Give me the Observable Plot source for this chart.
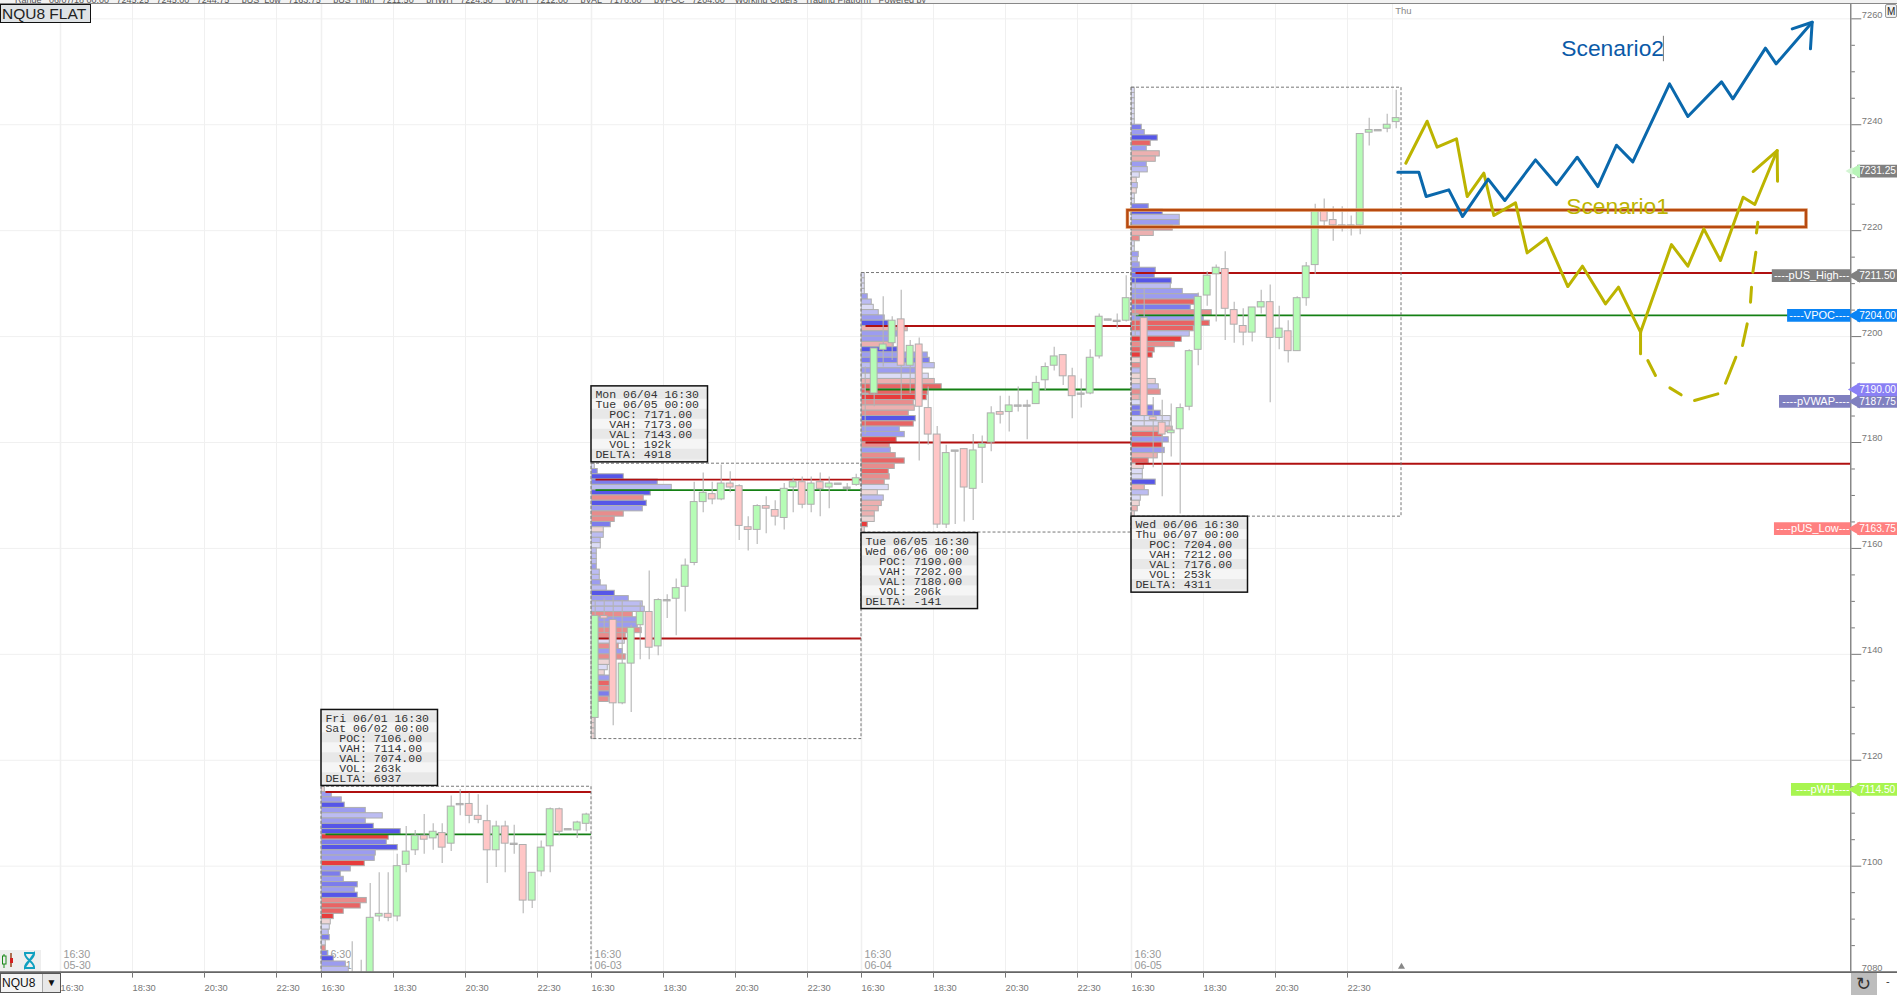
<!DOCTYPE html>
<html>
<head>
<meta charset="utf-8">
<script src="https://cdn.jsdelivr.net/npm/d3@7"></script>
<script src="https://cdn.jsdelivr.net/npm/@observablehq/plot@0.6"></script>
<style>
html,body{margin:0;padding:0;background:#fff;overflow:hidden}
#wrap{position:relative;width:1897px;height:995px;overflow:hidden;font-family:"Liberation Sans",Arial,sans-serif}
#chart text{white-space:pre}
.chrome{position:absolute;box-sizing:border-box}
</style>
</head>
<body>
<div id="wrap"><div id="chart"></div>
<div class="chrome" style="left:0;top:0;width:1897px;height:3.5px;background:#f2f2f2;border-bottom:1px solid #888;overflow:hidden;font-size:9px;line-height:0;color:#555;white-space:pre">      Range   06/07/18 00:00   7245.25   7245.00   7244.75     pUS_Low   7163.75     pUS_High   7211.50     pHWH   7224.50     pVAH   7212.00     pVAL   7176.00     pVPOC   7204.00    Working Orders   Trading Platform   Powered by</div>
<div class="chrome" style="left:0;top:4px;width:91px;height:19px;background:#dfe3e6;border:1px solid #111;font-size:15.5px;line-height:17px;padding-left:1px;color:#222">NQU8 FLAT</div>
<div class="chrome" style="left:1885px;top:4px;width:12px;height:14px;background:#f0f0f0;border:1px solid #999;border-radius:2px;font-size:10px;line-height:13px;padding-left:1px;color:#222">M</div>
<div class="chrome" style="left:0;top:950px;width:41px;height:21px;background:#eeeeee">
<svg width="41" height="21"><path d="M4 4V18M11 3V17" stroke="#1a8a1a" stroke-width="1"/><rect x="2.5" y="6" width="3.5" height="8" fill="#eee" stroke="#1a8a1a"/><path d="M11 3V17" stroke="#d42020"/><rect x="10" y="8" width="3" height="5" fill="#d42020"/><path d="M24 3H35M24 18H35M25 4C25 9 34 12 34 17M34 4C34 9 25 12 25 17Z" fill="none" stroke="#10a0c0" stroke-width="2"/></svg></div>
<div class="chrome" style="left:0;top:973px;width:61px;height:20px;background:#f4f4f4;border:1px solid #555;font-size:12px;line-height:18px;padding-left:1px;color:#111">NQU8<span style="position:absolute;right:0;top:0;width:17px;height:18px;background:#e8e8e8;border-left:1px solid #aaa;font-size:10px;text-align:center">▼</span></div>
<div class="chrome" style="left:1850.5px;top:972.5px;width:26px;height:22.5px;background:#bdbdbd;color:#333;font-size:18px;line-height:22px;text-align:center">↻</div>
<div class="chrome" style="left:1886px;top:975px;font-size:11px;color:#333">-</div>
</div>
<script>
// ---- data -------------------------------------------------------------
const sessionStart = [30, 60, 90, 120];
const sessionDate = ["05-30", "06-01", "06-03", "06-04", "06-05"];
const sessionDateBar = [1.33, 30.33, 60.33, 90.33, 120.33];
const tickBars = [1, 9, 17, 25, 30, 38, 46, 54, 60, 68, 76, 84, 90, 98, 106, 114, 120, 128, 136, 144];
const tickLabels = ["16:30","18:30","20:30","22:30","16:30","18:30","20:30","22:30","16:30","18:30","20:30","22:30","16:30","18:30","20:30","22:30","16:30","18:30","20:30","22:30"];
const extraGridBars = [149];
const priceMajor = [7080,7100,7120,7140,7160,7180,7200,7220,7240,7260];
const priceMinor = [7085,7090,7095,7105,7110,7115,7125,7130,7135,7145,7150,7155,7165,7170,7175,7185,7190,7195,7205,7210,7215,7225,7230,7235,7245,7250,7255];

const open1  = [null,null,null,7075,7072,7075,7090.5,7091,7090.5,7100.25,7103,7105.75,7105.25,7106.25,7104.25,7111.75,7111.75,7109.5,7108.5,7103,7107.5,7104.25,7104,7093.5,7099,7103.75,7110.75,7107,7106.75,7108];
const high1  = [null,null,null,7085.75,7082.25,7096.75,7098.75,7098.75,7102.25,7107.5,7106.75,7109.75,7108,7108,7113.25,7114.5,7113.75,7113.5,7111.5,7108.5,7108.5,7107.75,7104,7098.75,7104.75,7111,7111,7107,7108.5,7110];
const low1   = [null,null,null,7070,7068,7072,7089.5,7089.5,7089.5,7098.75,7102,7102.25,7103,7100.5,7102.75,7109.5,7108,7108,7096.75,7099.75,7098.75,7102.25,7091,7092,7098,7098.75,7105.75,7106.75,7105.25,7106.5];
const close1 = [null,null,null,7072,7075,7090.25,7091,7090.25,7100,7102.75,7105.75,7105,7106.5,7103.5,7111.25,7111.5,7109.5,7108.75,7103,7107.5,7104.25,7104,7093.5,7098.75,7103.5,7110.75,7106.5,7106.75,7108.25,7109.75];

const open2  = [7128,7147.25,7146.5,7130.75,7138.25,7145.5,7148,7141.5,7150.25,7150.5,7152.75,7157.25,7168.75,7170.25,7169.25,7172.25,7171.75,7164,7163.5,7168,7167.25,7165.75,7171.5,7172.5,7168.25,7172.5,7171.5,7172.25,7171.5,7172];
const high2  = [7150.25,7150.5,7150.75,7150.25,7145.5,7149.75,7155.75,7150.5,7151.25,7154.25,7158,7172.5,7174.25,7172.5,7175.75,7174.5,7172,7166,7168.25,7169.75,7169,7172.25,7173.25,7173.5,7173.5,7174.25,7173.5,7172.25,7172.25,7174];
const low2   = [7124,7144,7126.5,7130.5,7129,7139,7139,7139.75,7146.75,7143.5,7148,7156.75,7166.75,7168.25,7169,7170.5,7161.5,7159.5,7160.75,7162.75,7164.25,7163.5,7166.75,7167.5,7166.75,7166,7167.5,7172,7170.75,7171.75];
const close2 = [7147.25,7146.75,7130.75,7138.25,7145,7148,7141.25,7150.25,7150,7152.5,7156.75,7168.75,7170.5,7169.25,7172.25,7171.5,7164.25,7163.5,7168,7167.5,7166,7171.25,7172.5,7168.25,7172.25,7171.25,7172.25,7172,7171.25,7173.25];

const open3  = [7189.25,7189.25,7197.5,7198.75,7203.25,7194.5,7198.5,7186.5,7181.5,7164.5,7178.5,7178.75,7171.25,7179,7180,7185.75,7185.75,7187,7187,7187.25,7191.75,7194.5,7196.5,7192.5,7189.25,7189.25,7196.25,7203.25,7203,7203];
const high3  = [7194.25,7197.75,7207.5,7203.75,7208.75,7199.25,7199.75,7190.5,7183,7179.5,7178.5,7178.75,7181.5,7181.25,7186.75,7188.75,7188.75,7190.5,7188,7192.5,7195,7198,7196.5,7194,7192,7197.5,7204.25,7203.25,7204.25,7211.5];
const low3   = [7181.5,7186.75,7194.25,7195.5,7188,7189.25,7176.5,7179.5,7163.75,7163.75,7164.5,7165,7165.25,7172.25,7178.25,7183.5,7182,7185.75,7180.5,7187.25,7189.75,7193.5,7190.75,7184.5,7186.5,7189,7195.75,7203,7201.5,7202.75];
const close3 = [7189,7197.75,7198.5,7203,7194.5,7198.25,7186.75,7181.5,7164.5,7178,7178.25,7171.5,7178.5,7179.75,7185.5,7185.25,7187,7186.75,7186.75,7191.25,7194.25,7196.25,7192.5,7188.75,7189,7196,7203.75,7203,7202.75,7207.25];

const open4  = [7204.25,7203.5,7184.75,7183.75,7181.75,7182.5,7186.75,7197.5,7207.75,7211.75,7212.75,7205,7202,7200.75,7205.5,7206.5,7199.75,7201,7197.25,7207.25,7213.5,7223.75,7222,7221,7221,7221,7238.5,7239,7239.25,7240.5];
const high4  = [7211,7209,7188.5,7188,7187.25,7187.25,7197.5,7208.25,7212.25,7213.5,7216,7206.5,7205.25,7205.5,7208.75,7209.75,7205.75,7203,7207.5,7214,7225,7226,7224.5,7224.5,7222.75,7238.25,7241.25,7239,7242,7246.5];
const low4   = [7200,7183,7175.25,7169.75,7177.25,7166.5,7186,7194.5,7205.75,7202.75,7199.25,7198.75,7198.25,7199,7204.25,7187.5,7197.5,7195,7197.25,7205.75,7211.75,7220.25,7218,7219.75,7219,7219.25,7236,7238.75,7238.5,7239.25];
const close4 = [7204,7185,7184.25,7181.5,7182.25,7186.5,7197.25,7207.5,7211.5,7213,7205.25,7202.25,7200.75,7205.5,7206.5,7199.75,7201.5,7197.25,7207.25,7213.25,7223.75,7221.75,7221,7220.75,7220.75,7238.25,7239,7238.75,7240,7241.25];

const profileTop = [7115, 7176, 7212, 7247];
const profileVol1 = [3,10,20,23,44,61,44,52,79,67,65,76,54,53,43,29,19,22,36,33,36,45,39,22,12,9,8,7,8,4,4,6,12,24,27];
const profileDelta1 = [-1,3,3,5,3,2,3,5,5,-5,4,5,3,3,-5,3,4,3,4,3,5,-3,-4,-4,-5,-1,1,2,4,1,-3,4,5,3,2];
const profileVol2 = [3,6,32,66,80,59,52,55,51,32,23,19,12,12,9,9,5,5,5,5,8,8,9,15,23,37,51,53,41,46,46,50,34,33,27,31,34,19,16,13,19,19,19,19,17,3,3,3,3,3,3,3];
const profileDelta2 = [1,4,5,4,2,5,-3,5,3,-3,-3,4,-1,2,2,1,2,2,2,3,2,2,3,2,5,3,2,2,-3,3,3,-3,-3,1,-3,3,-3,-1,1,-1,3,-4,-3,4,-3,-1,-1,-1,-1,-1,-1,-1];
const profileVol3 = [3,3,3,3,6,10,12,17,23,27,46,36,32,32,36,66,68,73,56,67,73,80,66,65,52,53,47,54,52,38,43,35,28,29,34,43,33,27,28,23,27,16,22,20,17,13,13,6,3];
const profileDelta3 = [1,1,1,1,3,2,1,2,3,5,-2,3,3,-2,5,3,4,2,3,1,-2,-4,-4,-5,-3,-2,-3,5,-4,3,3,-5,-3,3,-3,-4,-3,-4,-3,-3,1,-1,2,-2,-2,-2,-1,-5,-1];
const profileVol4 = [3,3,3,3,3,3,3,10,13,26,19,15,28,24,15,16,8,5,6,5,3,3,17,31,48,48,41,22,8,3,3,7,6,8,24,23,40,39,51,67,63,59,80,72,78,62,58,50,43,23,21,10,10,9,10,24,27,29,8,10,22,29,39,38,41,31,37,31,33,26,17,12,11,11,24,13,17,9,8,6,3];
const profileDelta4 = [1,1,1,1,1,1,1,4,3,5,-4,3,-2,-2,3,2,1,-1,2,-1,1,1,4,5,2,3,-3,-2,-3,1,1,3,2,3,4,4,5,2,3,3,-4,4,-3,3,-4,-4,2,-5,-3,-4,-5,-1,-3,2,-1,-1,2,-3,-2,1,4,4,1,1,-2,-4,3,-5,3,-2,-4,-1,1,1,5,-2,2,1,-1,-2,-1];

const sessionHigh = [7115, 7176, 7212, 7247];
const sessionLow  = [7060, 7124, 7163, 7166];
const sessionPOC = [7106, 7171, 7190, 7204];
const sessionVAH = [7114, 7173, 7202, 7212];
const sessionVAL = [7074, 7143, 7180, 7176];
const levelEnd = [60, 90, 120, 199.92];

const infoTop = [7129.5, 7190.6, 7162.9, 7166];
const infoLines = [
  ["Fri 06/01 16:30","Sat 06/02 00:00","  POC: 7106.00","  VAH: 7114.00","  VAL: 7074.00","  VOL: 263k","DELTA: 6937"],
  ["Mon 06/04 16:30","Tue 06/05 00:00","  POC: 7171.00","  VAH: 7173.00","  VAL: 7143.00","  VOL: 192k","DELTA: 4918"],
  ["Tue 06/05 16:30","Wed 06/06 00:00","  POC: 7190.00","  VAH: 7202.00","  VAL: 7180.00","  VOL: 206k","DELTA: -141"],
  ["Wed 06/06 16:30","Thu 06/07 00:00","  POC: 7204.00","  VAH: 7212.00","  VAL: 7176.00","  VOL: 253k","DELTA: 4311"]
];

const scenario2Bar = [149.59,151.93,152.74,155.26,156.78,159.63,161.48,164.89,167.22,169.52,171.82,173.89,175.70,179.78,181.82,185.56,186.82,190.44,191.63,195.63];
const scenario2Price = [7231.04,7231.04,7226.45,7227.70,7222.67,7229.72,7225.69,7233.37,7228.71,7233.87,7228.33,7236.14,7232.99,7247.72,7241.55,7248.10,7244.89,7254.46,7251.5,7259.36];
const scenario2HeadBar = [193.41,195.63,195.44];
const scenario2HeadPrice = [7258.1,7259.36,7254.33];
const scenario1Bar = [150.48,152.85,153.96,156.11,157.30,159.15,160.26,162.67,163.96,166.11,168.48,170.11,172.67,174.11,176.56,180.0,181.82,183.59,185.44,187.96,189.26,191.74];
const scenario1Price = [7232.74,7240.67,7235.76,7237.33,7226.45,7230.85,7222.86,7225.25,7215.81,7218.58,7209.45,7213.29,7206.18,7209.33,7200.83,7217.38,7213.29,7220.34,7214.36,7226.32,7224.94,7235.13];
const scenario1HeadBar = [189.07,191.74,191.78];
const scenario1HeadPrice = [7231.17,7235.13,7229.34];
const scenario1DashBar = [[176.56,176.56],[177.37,178.22],[179.82,181.07],[182.56,185.15],[186.0,187.15],[187.89,188.41],[188.78,188.89],[189.04,189.37],[189.44,189.59]];
const scenario1DashPrice = [[7200.83,7196.74],[7195.48,7192.65],[7190.32,7189.0],[7187.93,7189.18],[7191.2,7196.1],[7198.31,7202.4],[7206.49,7209.33],[7212.16,7215.93],[7219.58,7221.6]];

const zoneBars = [119.6, 195];
const zonePrices = [7220.6, 7223.8];

const flagLabels = ["----pUS_High---","----VPOC----","----pVWAP----","","----pUS_Low---","----pWH----",""];
const flagPrices = [7211.5,7204,7187.75,7190,7163.75,7114.5,7231.25];
const flagValues = ["7211.50","7204.00","7187.75","7190.00","7163.75","7114.50","7231.25"];
const flagColors = ["#808080","#0a84f5","#8080c0","#8a80f5","#ff8080","#a8f550","#808080"];
const flagTipColors = ["#808080","#0a84f5","#8080c0","#8a80f5","#ff8080","#a8f550","#b8f5b8"];
const flagStartBar = [191.2,192.9,192,null,191.44,193.33,null];

// ---- tables ------------------------------------------------------------
const opens=[open1,open2,open3,open4], highs=[high1,high2,high3,high4], lows=[low1,low2,low3,low4], closes=[close1,close2,close3,close4];
const candles=[];
sessionStart.forEach((st,s)=>opens[s].forEach((o,i)=>{ if(o==null) return;
  candles.push({c:st+i+0.41,o,h:highs[s][i],l:lows[s][i],cl:closes[s][i]}); }));
const vols=[profileVol1,profileVol2,profileVol3,profileVol4], deltas=[profileDelta1,profileDelta2,profileDelta3,profileDelta4];
const rows=[];
const pxPerBar=9;
sessionStart.forEach((st,s)=>vols[s].forEach((v,i)=>rows.push({x1:st+0.03,x2:st+0.03+v/pxPerBar,top:profileTop[s]-i,bot:profileTop[s]-i-1,d:deltas[s][i]})));
const deltaColor={5:"#5656e8",4:"#7c7cec",3:"#9c9cf0",2:"#bcbcf2",1:"#dcdcf6","-1":"#eed6d6","-2":"#ecb0b0","-3":"#e88c8c","-4":"#e86464","-5":"#e83c3c"};
const levels=(arr)=>sessionStart.map((st,s)=>({x1:st+0.5,x2:levelEnd[s],y:arr[s]}));
const boxes=sessionStart.map((st,s)=>({x1:st,x2:st+30,y1:sessionLow[s],y2:sessionHigh[s]}));
const pxPerPoint=5.296, rowH=10/pxPerPoint, boxH=76/pxPerPoint, boxPad=3/pxPerPoint, boxW=116.5/9;
const infoRows=[], infoFrames=[];
sessionStart.forEach((st,s)=>{
  infoFrames.push({x1:st,x2:st+boxW,y1:infoTop[s],y2:infoTop[s]-boxH});
  infoLines[s].forEach((t,r)=>infoRows.push({x1:st,x2:st+boxW,y1:infoTop[s]-boxPad-r*rowH,y2:infoTop[s]-boxPad-(r+1)*rowH,t,r,tx:st+0.44}));
});
const zip=(xs,ys,k)=>xs.map((x,i)=>({x,y:ys[i],k}));
const dashes=scenario1DashBar.flatMap((xs,i)=>zip(xs,scenario1DashPrice[i],i));
const flags=flagPrices.map((p,i)=>({p,label:flagLabels[i],value:flagValues[i],color:flagColors[i],tip:flagTipColors[i],start:flagStartBar[i]}));
const dateLabels=sessionDate.map((d,i)=>({x:sessionDateBar[i],t:"16:30\n"+d}));
const FONT='"Liberation Sans",Arial,sans-serif';

const chart=Plot.plot({
  width:1897,height:995,marginTop:3.5,marginBottom:23.4,marginLeft:0,marginRight:46.7,
  style:{background:"#fff",overflow:"visible",fontFamily:FONT},
  x:{type:"linear",domain:[-51/9,1799.3/9]},
  y:{type:"linear",domain:[7080,7262.8]},
  marks:[
    Plot.ruleY(priceMajor,{stroke:"#f0f0f0",strokeWidth:1}),
    Plot.ruleX(tickBars.concat(extraGridBars),{stroke:"#f0f0f0",strokeWidth:d=>(d===1||d%30===0)?1.6:1}),
    Plot.text(dateLabels,{x:"x",y:7080.6,text:"t",textAnchor:"start",lineAnchor:"bottom",lineHeight:1.02,fontSize:10.7,fill:"#999"}),
    // volume profile
    Plot.rect(rows,{x1:"x1",x2:"x2",y1:"bot",y2:"top",fill:d=>deltaColor[d.d],stroke:"#aeaeae",strokeWidth:1,clip:true}),
    // session levels
    Plot.ruleY(levels(sessionVAH),{x1:"x1",x2:"x2",y:"y",stroke:"#b01010",strokeWidth:1.9}),
    Plot.ruleY(levels(sessionVAL),{x1:"x1",x2:"x2",y:"y",stroke:"#b01010",strokeWidth:1.9,clip:true}),
    Plot.ruleY(levels(sessionPOC),{x1:"x1",x2:"x2",y:"y",stroke:"#148014",strokeWidth:1.9}),
    // candles
    Plot.ruleX(candles,{x:"c",y1:"l",y2:"h",stroke:"#b4b4b4",strokeWidth:1.1,clip:true}),
    Plot.rect(candles,{x1:d=>d.c-0.38,x2:d=>d.c+0.38,y1:"o",y2:"cl",
      fill:d=>Math.abs(d.o-d.cl)<=0.25?"#bdbdbd":(d.cl>d.o?"#b6fcb6":"#ffc6c6"),stroke:"#aeaeae",strokeWidth:1,clip:true}),
    // session boxes
    Plot.rect(boxes,{x1:"x1",x2:"x2",y1:"y1",y2:"y2",fill:"none",stroke:"#777",strokeWidth:1,strokeDasharray:"3,2",clip:true}),
    // info boxes
    Plot.rect(infoFrames,{x1:"x1",x2:"x2",y1:"y1",y2:"y2",fill:"#eeeeee"}),
    Plot.rect(infoRows,{x1:"x1",x2:"x2",y1:"y1",y2:"y2",fill:d=>d.r%2?"#f5f5f5":"#e8e8e8"}),
    Plot.rect(infoFrames,{x1:"x1",x2:"x2",y1:"y1",y2:"y2",fill:"none",stroke:"#111",strokeWidth:1.5}),
    Plot.text(infoRows,{x:"tx",y:d=>(d.y1+d.y2)/2,text:"t",textAnchor:"start",fontFamily:'"Liberation Mono",monospace',fontSize:11.5,fill:"#333"}),
    // zone
    Plot.rect([0],{x1:zoneBars[0],x2:zoneBars[1],y1:zonePrices[0],y2:zonePrices[1],fill:"none",stroke:"#e8b48c",strokeWidth:3.6}),
    Plot.rect([0],{x1:zoneBars[0],x2:zoneBars[1],y1:zonePrices[0],y2:zonePrices[1],fill:"none",stroke:"#b84a10",strokeWidth:2.4}),
    // scenarios
    Plot.line(zip(scenario1Bar,scenario1Price,0),{x:"x",y:"y",stroke:"#bcb400",strokeWidth:3,curve:"linear"}),
    Plot.line(zip(scenario1HeadBar,scenario1HeadPrice,0),{x:"x",y:"y",stroke:"#bcb400",strokeWidth:3,curve:"linear"}),
    Plot.line(dashes,{x:"x",y:"y",z:"k",stroke:"#bcb400",strokeWidth:3,curve:"linear"}),
    Plot.line(zip(scenario2Bar,scenario2Price,0),{x:"x",y:"y",stroke:"#0a68ac",strokeWidth:3,curve:"linear"}),
    Plot.line(zip(scenario2HeadBar,scenario2HeadPrice,0),{x:"x",y:"y",stroke:"#0a68ac",strokeWidth:3,curve:"linear"}),
    Plot.text(["Scenario2"],{x:167.76,y:7252.9,text:d=>d,textAnchor:"start",lineAnchor:"bottom",fontSize:22.8,fill:"#0a5aa8"}),
    Plot.ruleX([179.1],{y1:7251.9,y2:7256.7,stroke:"#777",strokeWidth:1}),
    Plot.text(["Scenario1"],{x:168.3,y:7223.2,text:d=>d,textAnchor:"start",lineAnchor:"bottom",fontSize:22.8,fill:"#bcb400"}),
    Plot.text(["Thu"],{x:149.3,y:7261.4,text:d=>d,textAnchor:"start",fontSize:9.5,fill:"#888"}),
    // axes
    Plot.ruleX([199.92],{stroke:"#777",strokeWidth:1.3}),
    Plot.ruleY([7080],{x1:-5.667,x2:205.2,stroke:"#666",strokeWidth:1.6}),
    Plot.axisX({anchor:"bottom",ticks:tickBars,tickSize:6,tickPadding:6,textAnchor:"start",fontSize:9.3,color:"#777",label:null,
      tickFormat:d=>tickLabels[tickBars.indexOf(d)]}),
    Plot.axisY({anchor:"right",ticks:priceMajor,tickSize:10,color:"#777",label:null,tickFormat:()=>""}),
    Plot.axisY({anchor:"right",ticks:priceMajor,tickSize:0,tickPadding:11,dy:-4,fontSize:9.3,color:"#777",label:null,tickFormat:d=>String(d)}),
    Plot.axisY({anchor:"right",ticks:priceMinor,tickSize:3.6,color:"#777",label:null,tickFormat:()=>""}),
    Plot.dot([0],{x:150,y:7081,symbol:"triangle",r:2.6,fill:"#888"}),
    // level flags
    Plot.ruleY(flags.filter(f=>f.start!=null),{x1:"start",x2:199.92,y:"p",stroke:"color",strokeWidth:12.7}),
    Plot.text(flags.filter(f=>f.start!=null),{x:199.8,y:"p",text:"label",textAnchor:"end",fontSize:11,fill:"#fff"}),
    Plot.ruleY(flags,{x1:200.7,x2:205.3,y:"p",stroke:"color",strokeWidth:12.7}),
    Plot.dot(flags,{x:200.5,y:"p",symbol:"triangle",rotate:-90,r:5.2,fill:"tip",stroke:"none"}),
    Plot.dot([7231.25],{x:199.85,y:d=>d,symbol:"triangle",rotate:-90,r:3,fill:"#d4f5d4",stroke:"none"}),
    Plot.text(flags,{x:200.85,y:"p",text:"value",textAnchor:"start",fontSize:10.2,fill:"#fff"})
  ]
});
document.getElementById("chart").appendChild(chart);
</script>
</body>
</html>
